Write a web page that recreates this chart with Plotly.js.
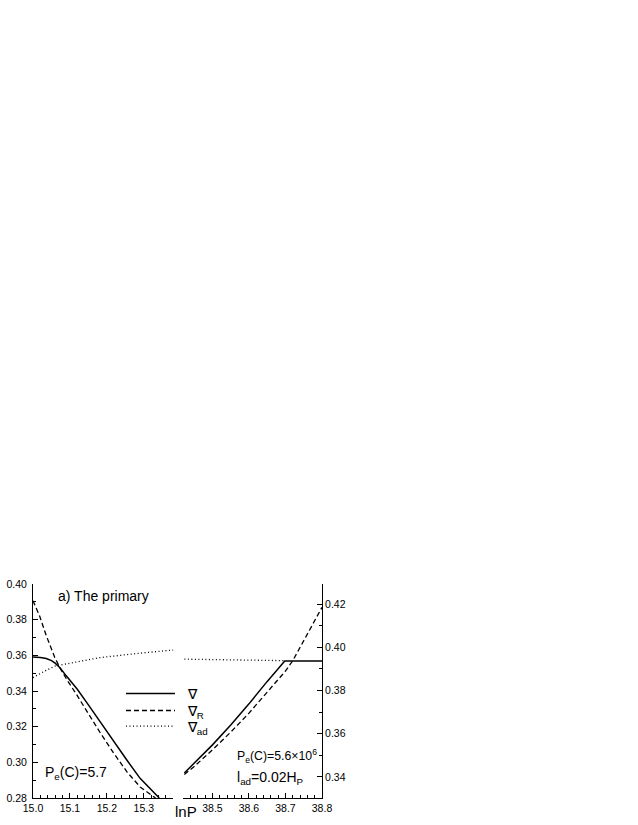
<!DOCTYPE html>
<html>
<head>
<meta charset="utf-8">
<script src="https://cdn.plot.ly/plotly-3.0.1.min.js"></script>
<style>
  html, body { margin: 0; padding: 0; background: #fff; }
  #plot { width: 638px; height: 825px; }
</style>
</head>
<body>
<div id="plot"></div>
<script>
// left panel (lnP around 15)
const lnPLeftSolid = [15.00, 15.02, 15.036, 15.05, 15.06, 15.073, 15.09, 15.12, 15.15, 15.18, 15.22, 15.255, 15.29, 15.342];
const gradLeft = [0.3590, 0.3588, 0.3582, 0.3570, 0.3556, 0.3530, 0.3485, 0.3410, 0.3322, 0.3232, 0.3112, 0.3010, 0.2910, 0.2800];

const lnPLeftDash = [15.00, 15.018, 15.036, 15.059, 15.073, 15.091, 15.118, 15.145, 15.182, 15.218, 15.255, 15.291, 15.332];
const gradRLeft = [0.3906, 0.3820, 0.3710, 0.3588, 0.3530, 0.3466, 0.3380, 0.3288, 0.3166, 0.3053, 0.2945, 0.2860, 0.2800];

const lnPLeftDot = [15.00, 15.03, 15.06, 15.10, 15.18, 15.28, 15.38];
const gradAdLeft = [0.3475, 0.3510, 0.3540, 0.3555, 0.3587, 0.3610, 0.3630];

// right panel (lnP around 38.6)
const lnPRightSolid = [38.423, 38.45, 38.50, 38.55, 38.60, 38.65, 38.698, 38.80];
const gradRight = [0.3418, 0.3462, 0.3548, 0.3640, 0.3738, 0.3842, 0.3936, 0.3936];

const lnPRightDash = [38.423, 38.45, 38.50, 38.55, 38.60, 38.65, 38.70, 38.72, 38.76, 38.80];
const gradRRight = [0.3411, 0.3448, 0.3525, 0.3607, 0.3695, 0.3790, 0.3890, 0.3938, 0.4062, 0.4185];

const lnPRightDot = [38.423, 38.698];
const gradAdRight = [0.3945, 0.3938];

const legendNames = ['\u2207', '\u2207<sub>R</sub>', '\u2207<sub>ad</sub>'];

const font = 'Arial, "Liberation Sans", sans-serif';
const solid = { color: 'black', width: 1.5 };
const dashed = { color: 'black', width: 1.3, dash: '5px,3px' };
const dotted = { color: 'black', width: 1.3, dash: '1px,2.5px' };

const pad = '\u00a0\u00a0';
const traces = [
  { x: lnPLeftSolid, y: gradLeft, name: pad + legendNames[0], line: solid, xaxis: 'x', yaxis: 'y', legend: 'legend' },
  { x: lnPLeftDash, y: gradRLeft, name: pad + legendNames[1], line: dashed, xaxis: 'x', yaxis: 'y', legend: 'legend2' },
  { x: lnPLeftDot, y: gradAdLeft, name: pad + legendNames[2], line: dotted, xaxis: 'x', yaxis: 'y', legend: 'legend3' },
  { x: lnPRightSolid, y: gradRight, line: solid, xaxis: 'x2', yaxis: 'y2', showlegend: false },
  { x: lnPRightDash, y: gradRRight, line: dashed, xaxis: 'x2', yaxis: 'y2', showlegend: false },
  { x: lnPRightDot, y: gradAdRight, line: dotted, xaxis: 'x2', yaxis: 'y2', showlegend: false }
].map(t => Object.assign({ type: 'scatter', mode: 'lines', line: { shape: 'spline' } }, t));

const axisCommon = {
  showline: true, linecolor: 'black', linewidth: 1,
  ticks: 'inside', ticklen: 5, tickwidth: 1, tickcolor: 'black',
  showgrid: false, zeroline: false, fixedrange: true,
  tickfont: { family: font, size: 10.5, color: 'black' }
};
const minorTicks = (d) => ({ dtick: d, ticks: 'inside', ticklen: 3, tickwidth: 1, tickcolor: 'black', showgrid: false });

const legendBox = (y) => ({
  x: 0.3045, y: y, xanchor: 'left', yanchor: 'top',
  bgcolor: 'rgba(0,0,0,0)', borderwidth: 0, itemwidth: 49,
  font: { family: font, size: 14, color: 'black' }
});

const layout = {
  width: 638, height: 825,
  margin: { l: 33, r: 316, t: 584, b: 27 },
  paper_bgcolor: 'white', plot_bgcolor: 'white',
  font: { family: font, color: 'black' },
  xaxis: Object.assign({}, axisCommon, {
    domain: [0, 0.4855], range: [15.0, 15.38], anchor: 'y',
    tick0: 15.0, dtick: 0.1, tickformat: '.1f', minor: minorTicks(0.02)
  }),
  yaxis: Object.assign({}, axisCommon, {
    range: [0.28, 0.40], anchor: 'x', ticklabelstandoff: 3,
    tick0: 0.28, dtick: 0.02, tickformat: '.2f', minor: minorTicks(0.01)
  }),
  xaxis2: Object.assign({}, axisCommon, {
    domain: [0.52, 1], range: [38.42, 38.80], anchor: 'y2',
    tick0: 38.5, dtick: 0.1, tickformat: '.1f', minor: minorTicks(0.02)
  }),
  yaxis2: Object.assign({}, axisCommon, {
    range: [0.3302, 0.4293], anchor: 'x2', side: 'right',
    tick0: 0.34, dtick: 0.02, tickformat: '.2f', minor: minorTicks(0.01)
  }),
  showlegend: true,
  legend: legendBox(0.5612),
  legend2: legendBox(0.4817),
  legend3: legendBox(0.4089),
  annotations: [
    { text: 'a) The primary', x: 0.0785, y: 0.944, xanchor: 'left', yanchor: 'middle', font: { size: 14 } },
    { text: 'P<sub>e</sub>(C)=5.7', x: 0.0346, y: 0.117, xanchor: 'left', yanchor: 'middle', font: { size: 14 } },
    { text: 'P<sub>e</sub>(C)=5.6\u00d710<sup>6</sup>', x: 0.699, y: 0.196, xanchor: 'left', yanchor: 'middle', font: { size: 12.3 } },
    { text: 'l<sub>ad</sub>=0.02H<sub>P</sub>', x: 0.699, y: 0.0935, xanchor: 'left', yanchor: 'middle', font: { size: 14 } },
    { text: 'lnP', x: 0.529, y: -0.064, xanchor: 'center', yanchor: 'middle', font: { size: 15 } }
  ].map(a => Object.assign({ xref: 'paper', yref: 'paper', showarrow: false }, a))
};

Plotly.newPlot('plot', traces, layout, { displayModeBar: false, staticPlot: true });
</script>
</body>
</html>
